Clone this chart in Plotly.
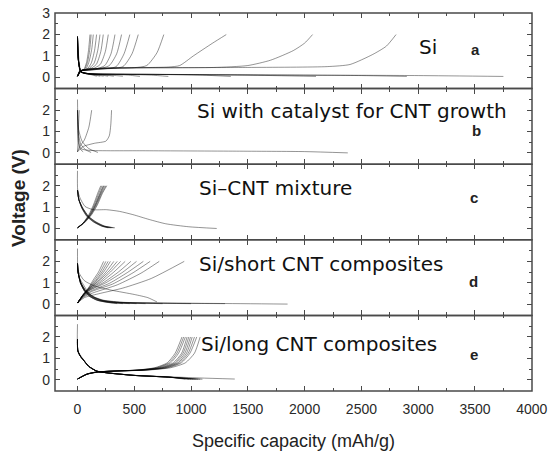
import plotly.graph_objects as go
from plotly.subplots import make_subplots

# ---------------- axis ticks / labels ----------------
x_ticks = [0, 500, 1000, 1500, 2000, 2500, 3000, 3500, 4000]
y_ticks_top = [0, 1, 2, 3]
y_ticks = [0, 1, 2]
panel_names = ["Si", "Si with catalyst for CNT growth", "Si\u2013CNT mixture",
               "Si/short CNT composites", "Si/long CNT composites"]
panel_letters = ["a", "b", "c", "d", "e"]
x_title = "Specific capacity (mAh/g)"
y_title = "Voltage (V)"

# ---------------- panel a : Si ----------------
a_dis_cap = [
    [0, 10, 30, 80, 400, 1200, 2200, 3000, 3750],
    [0, 8, 30, 100, 800, 1800, 2500, 2900],
    [0, 8, 30, 100, 700, 1500, 2100],
    [0, 8, 30, 100, 600, 1100, 1350],
    [0, 8, 30, 100, 400, 650, 800],
    [0, 8, 30, 100, 300, 450, 550],
    [0, 8, 30, 100, 250, 400],
    [0, 8, 30, 100, 220, 320],
    [0, 8, 30, 90, 190, 270],
    [0, 8, 30, 80, 160, 230],
    [0, 8, 30, 80, 140, 200],
    [0, 8, 25, 70, 120, 170],
]
a_dis_v = [
    [1.9, 1.0, 0.3, 0.16, 0.14, 0.12, 0.10, 0.08, 0.04],
    [1.9, 0.8, 0.25, 0.16, 0.13, 0.10, 0.08, 0.04],
    [1.9, 0.8, 0.25, 0.17, 0.14, 0.10, 0.04],
    [1.9, 0.8, 0.25, 0.17, 0.14, 0.10, 0.04],
    [1.9, 0.8, 0.26, 0.17, 0.14, 0.10, 0.04],
    [1.9, 0.8, 0.26, 0.17, 0.14, 0.10, 0.04],
    [1.9, 0.8, 0.26, 0.17, 0.12, 0.05],
    [1.9, 0.8, 0.26, 0.17, 0.12, 0.05],
    [1.9, 0.8, 0.26, 0.17, 0.12, 0.05],
    [1.9, 0.8, 0.26, 0.17, 0.12, 0.05],
    [1.9, 0.8, 0.26, 0.17, 0.12, 0.05],
    [1.9, 0.8, 0.26, 0.17, 0.12, 0.05],
]
a_chg_cap = [
    [0, 40, 200, 1500, 2200, 2400, 2600, 2720, 2805],
    [0, 40, 200, 1200, 1500, 1700, 1900, 2000, 2070],
    [0, 40, 200, 800, 900, 1020, 1190, 1310],
    [0, 40, 200, 500, 610, 700, 760],
    [0, 30, 200, 400, 480, 535],
    [0, 30, 180, 340, 410, 461],
    [0, 30, 160, 280, 345, 388],
    [0, 30, 140, 240, 295, 330],
    [0, 25, 120, 200, 245, 271],
    [0, 25, 100, 165, 205, 227],
    [0, 25, 90, 145, 178, 198],
    [0, 20, 80, 120, 150, 168],
    [0, 20, 70, 100, 125, 139],
    [0, 20, 60, 88, 108, 120],
    [0, 20, 55, 80, 98, 110],
]
a_chg_v = [
    [0.05, 0.33, 0.42, 0.46, 0.50, 0.60, 1.07, 1.46, 2.0],
    [0.05, 0.33, 0.42, 0.46, 0.55, 0.80, 1.25, 1.60, 2.0],
    [0.05, 0.33, 0.42, 0.48, 0.55, 1.0, 1.6, 2.0],
    [0.05, 0.33, 0.40, 0.45, 0.55, 1.15, 2.0],
    [0.05, 0.30, 0.38, 0.50, 1.10, 2.0],
    [0.05, 0.30, 0.37, 0.50, 1.10, 2.0],
    [0.05, 0.30, 0.36, 0.55, 1.10, 2.0],
    [0.05, 0.30, 0.36, 0.55, 1.10, 2.0],
    [0.05, 0.30, 0.36, 0.60, 1.20, 2.0],
    [0.05, 0.30, 0.36, 0.60, 1.20, 2.0],
    [0.05, 0.30, 0.36, 0.65, 1.25, 2.0],
    [0.05, 0.30, 0.36, 0.65, 1.25, 2.0],
    [0.05, 0.30, 0.36, 0.70, 1.30, 2.0],
    [0.05, 0.30, 0.36, 0.70, 1.30, 2.0],
    [0.05, 0.30, 0.36, 0.70, 1.30, 2.0],
]

# ---------------- panel b : Si with catalyst ----------------
b_dis_cap = [
    [0, 3, 10, 30, 100, 600, 1400, 2000, 2380],
    [0, 10, 40, 100, 180],
    [0, 8, 30, 70, 120],
    [0, 5, 20, 50],
]
b_dis_v = [
    [2.5, 1.5, 0.6, 0.2, 0.12, 0.10, 0.08, 0.06, 0.0],
    [2.0, 1.1, 0.55, 0.2, 0.02],
    [2.0, 0.9, 0.4, 0.15, 0.02],
    [2.0, 0.6, 0.2, 0.05],
]
b_chg_cap = [
    [0, 50, 150, 250, 280, 293, 300],
    [0, 20, 60, 100, 125],
    [0, 5, 10, 15],
]
b_chg_v = [
    [0.05, 0.30, 0.45, 0.55, 0.80, 1.30, 2.0],
    [0.05, 0.30, 0.60, 1.20, 2.0],
    [0.05, 0.50, 1.40, 2.0],
]

# ---------------- panel c : Si-CNT mixture ----------------
c_dis_cap = [
    [0, 2, 23, 67, 139, 255, 371, 487, 632, 777, 980, 1226],
    [0, 12, 38, 81, 139, 212, 270],
    [0, 12, 40, 84, 143, 216, 282],
    [0, 12, 42, 88, 148, 222, 295],
    [0, 12, 44, 92, 153, 228, 305],
    [0, 12, 46, 95, 158, 235, 318],
    [0, 12, 48, 98, 163, 240, 330],
]
c_dis_v = [
    [2.7, 1.8, 1.42, 1.03, 0.88, 0.88, 0.80, 0.65, 0.42, 0.22, 0.08, 0.0],
    [1.8, 1.35, 0.95, 0.57, 0.31, 0.11, 0.03],
    [1.8, 1.35, 0.95, 0.57, 0.31, 0.11, 0.03],
    [1.8, 1.35, 0.95, 0.57, 0.31, 0.11, 0.03],
    [1.8, 1.35, 0.95, 0.57, 0.31, 0.11, 0.03],
    [1.8, 1.35, 0.95, 0.57, 0.31, 0.11, 0.03],
    [1.8, 1.35, 0.95, 0.57, 0.31, 0.11, 0.03],
]
c_chg_cap = [
    [0, 50, 100, 140, 178, 205],
    [0, 52, 105, 147, 187, 215],
    [0, 52, 110, 154, 197, 226],
    [0, 54, 113, 158, 202, 232],
    [0, 55, 116, 162, 207, 240],
    [0, 56, 120, 168, 214, 250],
    [0, 60, 125, 175, 220, 258],
]
c_chg_v = [
    [0.03, 0.26, 0.65, 1.10, 1.65, 2.0],
    [0.03, 0.26, 0.65, 1.10, 1.65, 2.0],
    [0.03, 0.26, 0.65, 1.10, 1.65, 2.0],
    [0.03, 0.26, 0.65, 1.10, 1.65, 2.0],
    [0.03, 0.26, 0.65, 1.10, 1.65, 2.0],
    [0.03, 0.26, 0.65, 1.10, 1.65, 2.0],
    [0.03, 0.26, 0.65, 1.10, 1.65, 2.0],
]

# ---------------- panel d : Si/short CNT ----------------
d_dis_cap = [
    [0, 3, 20, 53, 97, 155, 228, 346, 640, 1220, 1850],
    [0, 10, 60, 150, 300, 500, 620, 700],
    [0, 5, 25, 60, 110, 170, 260, 350],
    [0, 5, 25, 60, 110, 175, 270, 400],
    [0, 5, 25, 62, 115, 180, 280, 460],
    [0, 5, 27, 65, 120, 190, 300, 520],
    [0, 5, 28, 68, 125, 200, 320, 600],
    [0, 5, 30, 70, 130, 210, 350, 750],
    [0, 5, 30, 72, 135, 220, 380, 1000],
    [0, 5, 30, 75, 140, 230, 420, 1300],
]
d_dis_v = [
    [2.6, 1.6, 1.2, 0.9, 0.53, 0.3, 0.15, 0.08, 0.05, 0.03, 0.0],
    [1.9, 1.5, 1.1, 0.85, 0.65, 0.45, 0.30, 0.10],
    [1.9, 1.5, 1.0, 0.62, 0.35, 0.18, 0.08, 0.02],
    [1.9, 1.5, 1.0, 0.62, 0.35, 0.18, 0.08, 0.02],
    [1.9, 1.5, 1.0, 0.62, 0.35, 0.18, 0.08, 0.02],
    [1.9, 1.5, 1.0, 0.62, 0.35, 0.18, 0.08, 0.02],
    [1.9, 1.5, 1.0, 0.62, 0.35, 0.18, 0.08, 0.02],
    [1.9, 1.5, 1.0, 0.62, 0.35, 0.18, 0.08, 0.02],
    [1.9, 1.5, 1.0, 0.62, 0.35, 0.18, 0.08, 0.02],
    [1.9, 1.5, 1.0, 0.62, 0.35, 0.18, 0.08, 0.02],
]
d_chg_cap = [
    [0, 50, 97, 140, 185, 230],
    [0, 50, 98, 150, 200, 250],
    [0, 50, 99, 160, 215, 270],
    [0, 50, 100, 165, 230, 290],
    [0, 50, 100, 175, 250, 320],
    [0, 50, 100, 180, 270, 350],
    [0, 50, 105, 195, 290, 380],
    [0, 50, 105, 210, 320, 420],
    [0, 50, 108, 230, 360, 470],
    [0, 50, 110, 250, 400, 520],
    [0, 55, 120, 280, 440, 580],
    [0, 55, 130, 310, 490, 640],
    [0, 60, 150, 350, 560, 720],
    [0, 60, 200, 400, 650, 940],
]
d_chg_v = [
    [0.05, 0.45, 0.76, 1.14, 1.50, 2.0],
    [0.05, 0.45, 0.75, 1.12, 1.50, 2.0],
    [0.05, 0.44, 0.74, 1.10, 1.50, 2.0],
    [0.05, 0.43, 0.72, 1.08, 1.50, 2.0],
    [0.05, 0.43, 0.71, 1.06, 1.50, 2.0],
    [0.05, 0.42, 0.70, 1.05, 1.50, 2.0],
    [0.05, 0.42, 0.69, 1.04, 1.50, 2.0],
    [0.05, 0.41, 0.68, 1.03, 1.50, 2.0],
    [0.05, 0.40, 0.66, 1.01, 1.50, 2.0],
    [0.05, 0.40, 0.65, 1.00, 1.50, 2.0],
    [0.05, 0.38, 0.62, 0.97, 1.48, 2.0],
    [0.05, 0.37, 0.60, 0.94, 1.47, 2.0],
    [0.05, 0.35, 0.55, 0.90, 1.45, 2.0],
    [0.05, 0.30, 0.50, 0.75, 1.20, 2.0],
]

# ---------------- panel e : Si/long CNT ----------------
e_dis_cap = [
    [0, 2, 23, 53, 97, 170, 258, 492, 785, 1078, 1385],
    [0, 3, 25, 55, 100, 170, 260, 500, 800, 950],
    [0, 3, 25, 55, 100, 170, 260, 500, 800, 980],
    [0, 3, 25, 55, 100, 170, 260, 500, 800, 1000],
    [0, 3, 25, 55, 100, 170, 260, 500, 800, 1020],
    [0, 3, 25, 55, 100, 170, 260, 500, 800, 1040],
    [0, 3, 25, 55, 100, 170, 260, 500, 800, 1060],
    [0, 3, 25, 55, 100, 170, 260, 500, 800, 1080],
    [0, 3, 25, 55, 100, 170, 260, 500, 800, 1100],
]
e_dis_v = [
    [2.6, 1.4, 1.17, 0.94, 0.64, 0.41, 0.33, 0.21, 0.14, 0.08, 0.03],
    [1.9, 1.35, 1.1, 0.9, 0.62, 0.40, 0.32, 0.20, 0.12, 0.02],
    [1.9, 1.35, 1.1, 0.9, 0.62, 0.40, 0.32, 0.20, 0.12, 0.02],
    [1.9, 1.35, 1.1, 0.9, 0.62, 0.40, 0.32, 0.20, 0.12, 0.02],
    [1.9, 1.35, 1.1, 0.9, 0.62, 0.40, 0.32, 0.20, 0.12, 0.02],
    [1.9, 1.35, 1.1, 0.9, 0.62, 0.40, 0.32, 0.20, 0.12, 0.02],
    [1.9, 1.35, 1.1, 0.9, 0.62, 0.40, 0.32, 0.20, 0.12, 0.02],
    [1.9, 1.35, 1.1, 0.9, 0.62, 0.40, 0.32, 0.20, 0.12, 0.02],
    [1.9, 1.35, 1.1, 0.9, 0.62, 0.40, 0.32, 0.20, 0.12, 0.02],
]
e_chg_cap = [
    [0, 80, 170, 340, 520, 680, 790, 860, 920],
    [0, 80, 170, 345, 530, 695, 805, 875, 935],
    [0, 82, 170, 346, 540, 710, 820, 890, 950],
    [0, 82, 172, 350, 551, 726, 844, 917, 965],
    [0, 84, 174, 352, 560, 740, 858, 930, 980],
    [0, 84, 176, 355, 570, 752, 872, 945, 995],
    [0, 86, 178, 358, 580, 765, 886, 960, 1010],
    [0, 86, 180, 360, 590, 780, 900, 975, 1030],
    [0, 88, 182, 365, 600, 795, 915, 990, 1050],
    [0, 90, 190, 380, 620, 820, 950, 1030, 1080],
]
e_chg_v = [
    [0.03, 0.26, 0.36, 0.41, 0.45, 0.56, 0.79, 1.24, 2.0],
    [0.03, 0.26, 0.36, 0.41, 0.45, 0.56, 0.79, 1.24, 2.0],
    [0.03, 0.26, 0.36, 0.41, 0.45, 0.56, 0.79, 1.24, 2.0],
    [0.03, 0.26, 0.36, 0.41, 0.45, 0.56, 0.79, 1.24, 2.0],
    [0.03, 0.26, 0.36, 0.41, 0.45, 0.56, 0.79, 1.24, 2.0],
    [0.03, 0.26, 0.36, 0.41, 0.45, 0.56, 0.79, 1.24, 2.0],
    [0.03, 0.26, 0.36, 0.41, 0.45, 0.56, 0.79, 1.24, 2.0],
    [0.03, 0.26, 0.36, 0.41, 0.45, 0.56, 0.79, 1.24, 2.0],
    [0.03, 0.26, 0.36, 0.41, 0.45, 0.56, 0.79, 1.24, 2.0],
    [0.03, 0.26, 0.36, 0.41, 0.45, 0.56, 0.79, 1.24, 2.0],
]

# label positions (data coords of each panel)
name_x = [2986, 1034, 1049, 1049, 1072]
name_y = [1.42, 1.98, 1.88, 1.90, 1.67]
letter_x = [3504, 3517, 3490, 3490, 3490]
letter_y = [1.32, 1.03, 1.45, 1.08, 1.19]

panels = [
    (a_dis_cap, a_dis_v, a_chg_cap, a_chg_v),
    (b_dis_cap, b_dis_v, b_chg_cap, b_chg_v),
    (c_dis_cap, c_dis_v, c_chg_cap, c_chg_v),
    (d_dis_cap, d_dis_v, d_chg_cap, d_chg_v),
    (e_dis_cap, e_dis_v, e_chg_cap, e_chg_v),
]

LINE = dict(color="rgba(0,0,0,0.42)", width=1, shape="spline", smoothing=0.6)
FRAME = "#4a4a4a"
TICKFONT = dict(family="Liberation Sans, Arial", size=14, color="#2a2a2a")

fig = make_subplots(rows=5, cols=1, shared_xaxes=True, vertical_spacing=0)

for i, (dc, dv, cc, cv) in enumerate(panels, start=1):
    for xs, ys in list(zip(dc, dv)) + list(zip(cc, cv)):
        fig.add_trace(go.Scatter(x=xs, y=ys, mode="lines", line=LINE,
                                 showlegend=False, hoverinfo="skip"), row=i, col=1)

shapes = []
for i in range(1, 6):
    fig.update_xaxes(row=i, col=1, range=[-198, 4002], tickmode="array", tickvals=x_ticks,
                     ticks="inside", ticklen=5, tickwidth=1.2, tickcolor=FRAME,
                     showline=False, mirror="ticks", automargin=False,
                     showgrid=False, zeroline=False,
                     minor=dict(ticks="inside", dtick=250, tick0=0, ticklen=3,
                                tickwidth=1.2, tickcolor=FRAME, showgrid=False),
                     showticklabels=(i == 5), tickfont=TICKFONT, ticklabelstandoff=8)
    fig.update_yaxes(row=i, col=1, range=[-0.53, 3.01], tickmode="array",
                     tickvals=(y_ticks_top if i == 1 else y_ticks),
                     ticks="inside", ticklen=5, tickwidth=1.2, tickcolor=FRAME,
                     showline=False, mirror="ticks", automargin=False,
                     showgrid=False, zeroline=False,
                     minor=dict(ticks="inside", dtick=0.5, tick0=0, ticklen=3,
                                tickwidth=1.2, tickcolor=FRAME, showgrid=False),
                     tickfont=TICKFONT, ticklabelstandoff=4)
    sx = "x" if i == 1 else f"x{i}"
    sy = "y" if i == 1 else f"y{i}"
    shapes.append(dict(type="rect", xref=f"{sx} domain", yref=f"{sy} domain",
                       x0=0, x1=1, y0=0, y1=1, line=dict(color=FRAME, width=1.5),
                       fillcolor="rgba(0,0,0,0)", layer="above"))

annotations = []
for i in range(5):
    xr = "x" if i == 0 else f"x{i+1}"
    yr = "y" if i == 0 else f"y{i+1}"
    annotations.append(dict(x=name_x[i], y=name_y[i], xref=xr, yref=yr, text=panel_names[i],
                            showarrow=False, xanchor="left", yanchor="middle",
                            font=dict(family="DejaVu Sans", size=20, color="#111")))
    annotations.append(dict(x=letter_x[i], y=letter_y[i], xref=xr, yref=yr,
                            text=f"<b>{panel_letters[i]}</b>",
                            showarrow=False, xanchor="center", yanchor="middle",
                            font=dict(family="Liberation Sans, Arial", size=15, color="#222")))
annotations.append(dict(x=0.5, y=-0.132, xref="paper", yref="paper", text=x_title,
                        showarrow=False, xanchor="center", yanchor="middle",
                        font=dict(family="Liberation Sans, Arial", size=18, color="#222")))
annotations.append(dict(x=-0.0755, y=0.5106, xref="paper", yref="paper", text=f"<b>{y_title}</b>",
                        showarrow=False, xanchor="center", yanchor="middle", textangle=-90,
                        font=dict(family="Liberation Sans, Arial", size=19, color="#222")))

fig.update_layout(width=548, height=456, margin=dict(l=55, r=16, t=13, b=65, autoexpand=False),
                  plot_bgcolor="white", paper_bgcolor="white",
                  annotations=annotations, shapes=shapes)

fig.write_html("out.html", config={"displayModeBar": False},
               post_script="document.body.style.margin='0';document.body.style.padding='0';"
                           "document.body.style.overflow='hidden';")
